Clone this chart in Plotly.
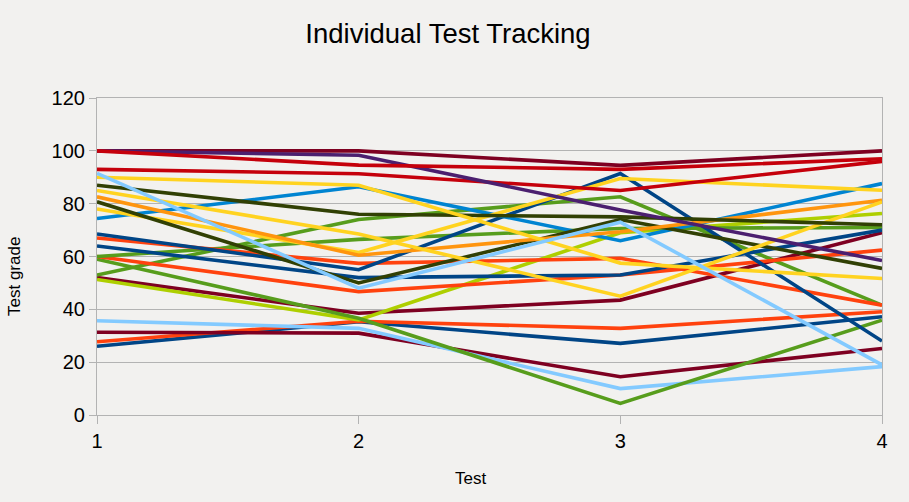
import plotly.graph_objects as go

tests = [1, 2, 3, 4]

# LibreOffice default chart palette
DARKBLUE = "#004586"
ORANGERED = "#ff420e"
YELLOW = "#ffd320"
GREEN = "#579d1c"
MAROON = "#7e0021"
LIGHTBLUE = "#83caff"
OLIVE = "#314004"
LIME = "#aecf00"
PURPLE = "#4b1f6f"
ORANGE = "#ff950e"
RED = "#c5000b"
BLUE = "#0084d1"

student_01 = [100, 100, 94.5, 100]
student_02 = [100, 98.3, 77.6, 58.5]
student_03 = [100, 94.6, 93, 97]
student_04 = [93, 91.3, 85, 96]
student_05 = [91.5, 48, 73, 19]
student_06 = [90, 87, 57.5, 51.7]
student_07 = [87, 76, 75, 72]
student_08 = [85, 68.5, 45, 80.7]
student_09 = [82.6, 60.5, 69.4, 81.3]
student_10 = [80.7, 50, 74, 55.5]
student_11 = [78, 61.5, 89.5, 85.1]
student_12 = [74.4, 86.4, 66, 87.6]
student_13 = [68.5, 55, 91.4, 28]
student_14 = [67, 57.4, 59.3, 41.6]
student_15 = [64, 52, 53, 70]
student_16 = [60, 66.5, 70.6, 71]
student_17 = [60, 46.7, 53, 62.4]
student_18 = [59, 36.6, 4.4, 35.9]
student_19 = [53, 74, 82.6, 41.6]
student_20 = [51.3, 36, 69, 76.3]
student_21 = [52, 38.5, 43.5, 69]
student_22 = [35.7, 32.8, 10, 18.3]
student_23 = [31.3, 31, 14.5, 25.2]
student_24 = [27.7, 35.5, 32.8, 39.1]
student_25 = [26, 35.3, 27.1, 37.2]

series = [
    (student_25, DARKBLUE), (student_24, ORANGERED), (student_23, MAROON),
    (student_22, LIGHTBLUE), (student_21, MAROON), (student_20, LIME),
    (student_19, GREEN), (student_18, GREEN), (student_17, ORANGERED),
    (student_16, GREEN), (student_15, DARKBLUE), (student_14, ORANGERED),
    (student_13, DARKBLUE), (student_12, BLUE), (student_11, YELLOW),
    (student_10, OLIVE), (student_09, ORANGE), (student_08, YELLOW),
    (student_07, OLIVE), (student_06, YELLOW), (student_05, LIGHTBLUE),
    (student_04, RED), (student_01, MAROON), (student_02, PURPLE),
    (student_03, RED),
]

fig = go.Figure()
for vals, col in series:
    fig.add_trace(go.Scatter(x=tests, y=vals, mode="lines",
                             line=dict(color=col, width=3.6),
                             showlegend=False, hoverinfo="skip"))

W, H = 909, 502
BG = "#f2f1ef"
GRID = "#b3b3b3"
fig.update_layout(
    width=W, height=H,
    paper_bgcolor=BG, plot_bgcolor=BG,
    margin=dict(l=97, r=27, t=98, b=87),
    font=dict(family="Liberation Sans, Arial, sans-serif", color="#000000"),
    title=dict(text="Individual Test Tracking", x=448 / W, xanchor="center",
               y=0.934, yanchor="middle", font=dict(size=27.5)),
    showlegend=False,
    annotations=[
        dict(text="Test", xref="paper", yref="paper",
             x=(470 - 97) / 785, y=(415 - 478) / 317,
             xanchor="center", yanchor="middle", showarrow=False,
             font=dict(size=17)),
        dict(text="Test grade", xref="paper", yref="paper",
             x=(14 - 97) / 785, y=(415 - 277) / 317, textangle=-90,
             xanchor="center", yanchor="middle", showarrow=False,
             font=dict(size=17)),
    ],
)
fig.update_xaxes(range=[1, 4], tickvals=tests, ticktext=[str(t) for t in tests],
                 showgrid=False, zeroline=False,
                 showline=True, linecolor=GRID, linewidth=1.2, mirror=True,
                 ticks="outside", ticklen=8, tickcolor=GRID,
                 tickfont=dict(size=20))
fig.update_yaxes(range=[0, 120], dtick=20, showgrid=True, gridcolor=GRID,
                 gridwidth=1.2, zeroline=False,
                 showline=True, linecolor=GRID, linewidth=1.2, mirror=True,
                 ticks="outside", ticklen=7, tickcolor=GRID,
                 tickfont=dict(size=20))

fig.write_html(
    "out.html",
    config={"displayModeBar": False},
    post_script="document.body.style.margin='0';"
                "document.body.style.background='#f2f1ef';"
                "document.documentElement.style.background='#f2f1ef';",
)
